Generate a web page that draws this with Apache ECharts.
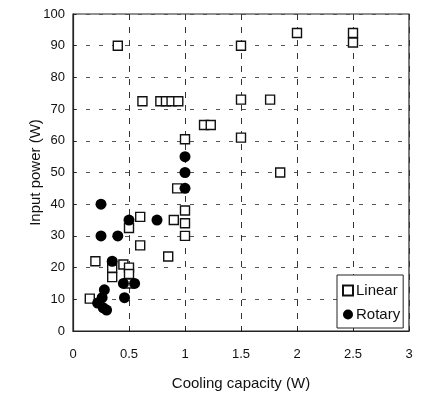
<!DOCTYPE html>
<html>
<head>
<meta charset="utf-8">
<script src="https://cdn.jsdelivr.net/npm/echarts@6/dist/echarts.min.js"></script>
<style>html,body{margin:0;padding:0;background:#fff}#c{width:424px;height:401px}</style>
</head>
<body>
<div id="c"></div>
<script>
var xTicks = [0, 0.5, 1, 1.5, 2, 2.5, 3];
var yTicks = [0, 10, 20, 30, 40, 50, 60, 70, 80, 90, 100];

var linearX = [0.4, 0.62, 0.78, 0.83, 0.88, 0.94, 1.17, 1.23, 1.0, 2.0, 2.5, 1.5, 2.5, 1.5, 1.76, 1.5, 1.85,
               0.93, 0.6, 0.9, 1.0, 1.0, 0.5, 1.0, 0.6, 0.85, 0.2, 0.35, 0.35, 0.45, 0.5, 0.5, 0.5, 0.15];
var linearY = [90, 72.5, 72.5, 72.5, 72.5, 72.5, 65, 65, 60.5, 94, 94, 90, 91, 73, 73, 61, 50,
               45, 36, 35, 38, 34, 32.5, 30, 27, 23.5, 22, 20, 17, 21, 20, 18, 15, 10.2];

var rotaryX = [1.0, 1.0, 1.0, 0.25, 0.5, 0.75, 0.25, 0.4, 0.35, 0.45, 0.55, 0.28, 0.26, 0.22, 0.27, 0.3, 0.46];
var rotaryY = [55, 50, 45, 40, 35, 35, 30, 30, 22, 15, 15, 13, 10.5, 8.8, 7.3, 6.6, 10.5];

function pairs(xs, ys) { return xs.map(function (x, i) { return [x, ys[i]]; }); }

var chart = echarts.init(document.getElementById('c'), null, {renderer: 'canvas'});
var font = 'Liberation Sans';
chart.setOption({
  animation: false,
  backgroundColor: '#fff',
  textStyle: {fontFamily: font},
  grid: {left: 73, top: 14, right: 15, bottom: 70, show: true, borderColor: '#222', borderWidth: 1.2, backgroundColor: 'transparent'},
  xAxis: {
    type: 'value', min: xTicks[0], max: xTicks[xTicks.length - 1], interval: 0.5,
    name: 'Cooling capacity (W)', nameLocation: 'middle', nameGap: 45,
    nameTextStyle: {fontSize: 15, color: '#111', fontFamily: font},
    axisLine: {show: true, lineStyle: {color: '#222', width: 1.2}},
    axisTick: {show: true, inside: true, length: 3, lineStyle: {color: '#222'}},
    axisLabel: {fontSize: 13, color: '#111', margin: 17, fontFamily: font,
      formatter: function (v) { return String(v); }},
    splitLine: {show: true, lineStyle: {color: '#333', type: [6, 7], width: 1}}
  },
  yAxis: {
    type: 'value', min: yTicks[0], max: yTicks[yTicks.length - 1], interval: 10,
    name: 'Input power (W)', nameLocation: 'middle', nameGap: 30, nameRotate: 90,
    nameMoveOverlap: false,
    nameTextStyle: {fontSize: 15, color: '#111', fontFamily: font},
    axisLine: {show: true, lineStyle: {color: '#222', width: 1.2}},
    axisTick: {show: true, inside: true, length: 3, lineStyle: {color: '#222'}},
    axisLabel: {fontSize: 13, color: '#111', margin: 8, fontFamily: font},
    splitLine: {show: true, lineStyle: {color: '#555', type: [4, 9], width: 1}}
  },
  legend: {
    orient: 'vertical', left: 337, top: 275,
    backgroundColor: '#fff', borderColor: '#222', borderWidth: 1,
    padding: [8, 3, 6, 5], itemGap: 9, itemWidth: 10, itemHeight: 10,
    textStyle: {fontSize: 15, color: '#111', fontFamily: font, padding: [0, 0, 0, -2]},
    data: [{name: 'Linear', icon: 'rect'}, {name: 'Rotary', icon: 'circle'}]
  },
  series: [
    {
      name: 'Linear', type: 'scatter', symbol: 'rect', symbolSize: 9,
      itemStyle: {color: '#fff', borderColor: '#111', borderWidth: 1.4, opacity: 1},
      data: pairs(linearX, linearY), z: 3
    },
    {
      name: 'Rotary', type: 'scatter', symbol: 'circle', symbolSize: 11,
      itemStyle: {color: '#000', opacity: 1},
      data: pairs(rotaryX, rotaryY), z: 4
    }
  ]
});
</script>
</body>
</html>
